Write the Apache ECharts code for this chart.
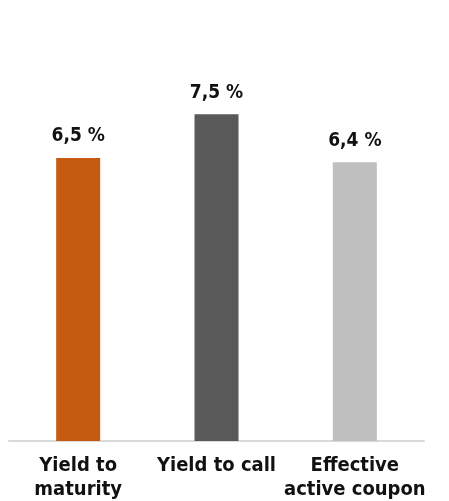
<!DOCTYPE html>
<html>
<head>
<meta charset="utf-8">
<style>
  html, body { margin: 0; padding: 0; background: #ffffff; }
  #chart { width: 449px; height: 501px; }
</style>
<script src="https://cdn.jsdelivr.net/npm/echarts@6/dist/echarts.min.js"></script>
</head>
<body>
<div id="chart"></div>
<script>
// Yield figures in percent
const categories = ['Yield to\nmaturity', 'Yield to call', 'Effective\nactive coupon'];
const values = [6.5, 7.5, 6.4];
const barColors = ['#C55A11', '#595959', '#BFBFBF'];

const chart = echarts.init(document.getElementById('chart'), null, { renderer: 'canvas' });

chart.setOption({
  animation: false,
  grid: {
    left: 9, right: 25, top: 49, bottom: 60,
    containLabel: false,
    outerBoundsMode: 'none'
  },
  xAxis: {
    type: 'category',
    data: categories,
    axisLine: { show: true, lineStyle: { color: '#D9D9D9', width: 2 } },
    axisTick: { show: false },
    axisLabel: {
      interval: 0,
      margin: 13,
      color: '#111111',
      fontFamily: 'DejaVu Sans Condensed',
      fontWeight: 'bold',
      fontSize: 20,
      lineHeight: 24
    }
  },
  yAxis: {
    type: 'value',
    min: 0,
    max: 9,
    show: false,
    splitLine: { show: false }
  },
  series: [{
    type: 'bar',
    barWidth: 44,
    data: values.map((v, i) => ({ value: v, itemStyle: { color: barColors[i] } })),
    label: {
      show: true,
      position: 'top',
      distance: 12,
      color: '#111111',
      fontFamily: 'DejaVu Sans Condensed',
      fontWeight: 'bold',
      fontSize: 19,
      formatter: p => String(p.value).replace('.', ',') + ' %'
    }
  }]
});
</script>
</body>
</html>
